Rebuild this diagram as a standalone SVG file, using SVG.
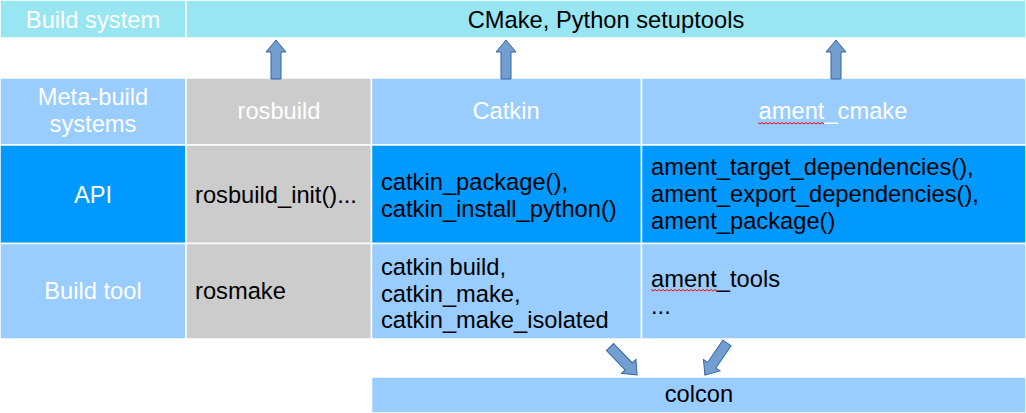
<svg xmlns="http://www.w3.org/2000/svg" width="1026" height="413" viewBox="0 0 1026 413">
<style>
.cell{stroke:#ffffff;stroke-width:1.5}
.cyan{fill:#99e6f3}
.light{fill:#99ccff}
.bright{fill:#0099ff}
.gray{fill:#cccccc}
text{font-family:"Liberation Sans",Arial,sans-serif;font-size:23.7px}
.hd{fill:#ffffff;text-anchor:middle}
.ct{fill:#000000}
.mid{text-anchor:middle}
.arrow{fill:#729fcf;stroke:#3465a4;stroke-width:1}
.wavy{fill:none;stroke:#ff0000;stroke-width:1}
</style>
<defs>
<path id="blk" d="M0,-5 L27,-5 L27,-10 L39,0 L27,10 L27,5 L0,5 Z"/>
</defs>
<rect width="1026" height="413" fill="#ffffff"/>

<g id="row-build-system">
<rect class="cell cyan" x="0" y="0" width="186" height="38"/>
<text class="hd" x="93" y="28">Build system</text>
</g>
<g id="cmake">
<rect class="cell cyan" x="186" y="0" width="840" height="38"/>
<text class="ct mid" x="606" y="28">CMake, Python setuptools</text>
</g>

<g id="row-meta">
<rect class="cell light" x="0" y="78" width="186" height="67"/>
<text class="hd" x="93" y="105">Meta-build</text>
<text class="hd" x="93" y="132">systems</text>
</g>
<g id="rosbuild">
<rect class="cell gray" x="186" y="78" width="185.5" height="67"/>
<text class="hd" x="279" y="119">rosbuild</text>
</g>
<g id="catkin">
<rect class="cell light" x="371.5" y="78" width="270" height="67"/>
<text class="hd" x="506" y="119">Catkin</text>
</g>
<g id="ament-cmake">
<rect class="cell light" x="641.5" y="78" width="384.5" height="67"/>
<text class="hd" x="833" y="119">ament_cmake</text>
<path class="wavy" d="M758,122.5 l2,1.5 l2,-1.5 l2,1.5 l2,-1.5 l2,1.5 l2,-1.5 l2,1.5 l2,-1.5 l2,1.5 l2,-1.5 l2,1.5 l2,-1.5 l2,1.5 l2,-1.5 l2,1.5 l2,-1.5 l2,1.5 l2,-1.5 l2,1.5 l2,-1.5 l2,1.5 l2,-1.5 l2,1.5 l2,-1.5 l2,1.5 l2,-1.5 l2,1.5 l2,-1.5 l2,1.5 l2,-1.5 l2,1.5 l2,-1.5 l2,1.5"/>
</g>

<g id="row-api">
<rect class="cell bright" x="0" y="145" width="186" height="98.5"/>
<text class="hd" x="93" y="203">API</text>
</g>
<g id="rosbuild-api">
<rect class="cell gray" x="186" y="145" width="185.5" height="98.5"/>
<text class="ct" x="195" y="203">rosbuild_init()...</text>
</g>
<g id="catkin-api">
<rect class="cell bright" x="371.5" y="145" width="270" height="98.5"/>
<text class="ct" x="381" y="190">catkin_package(),</text>
<text class="ct" x="381" y="217">catkin_install_python()</text>
</g>
<g id="ament-api">
<rect class="cell bright" x="641.5" y="145" width="384.5" height="98.5"/>
<text class="ct" x="651" y="175">ament_target_dependencies(),</text>
<text class="ct" x="651" y="202">ament_export_dependencies(),</text>
<text class="ct" x="651" y="229">ament_package()</text>
</g>

<g id="row-build-tool">
<rect class="cell light" x="0" y="243.5" width="186" height="95.5"/>
<text class="hd" x="93" y="299">Build tool</text>
</g>
<g id="rosmake">
<rect class="cell gray" x="186" y="243.5" width="185.5" height="95.5"/>
<text class="ct" x="195" y="299">rosmake</text>
</g>
<g id="catkin-tool">
<rect class="cell light" x="371.5" y="243.5" width="270" height="95.5"/>
<text class="ct" x="381" y="275">catkin build,</text>
<text class="ct" x="381" y="302">catkin_make,</text>
<text class="ct" x="381" y="328">catkin_make_isolated</text>
</g>
<g id="ament-tools">
<rect class="cell light" x="641.5" y="243.5" width="384.5" height="95.5"/>
<text class="ct" x="651" y="287">ament_tools</text>
<text class="ct" x="651" y="314">...</text>
<path class="wavy" d="M651,289.5 l2,1.5 l2,-1.5 l2,1.5 l2,-1.5 l2,1.5 l2,-1.5 l2,1.5 l2,-1.5 l2,1.5 l2,-1.5 l2,1.5 l2,-1.5 l2,1.5 l2,-1.5 l2,1.5 l2,-1.5 l2,1.5 l2,-1.5 l2,1.5 l2,-1.5 l2,1.5 l2,-1.5 l2,1.5 l2,-1.5 l2,1.5 l2,-1.5 l2,1.5 l2,-1.5 l2,1.5 l2,-1.5 l2,1.5 l2,-1.5 l2,1.5"/>
</g>

<g id="colcon">
<rect class="cell light" x="371.5" y="377" width="654.5" height="36"/>
<text class="ct mid" x="699" y="402">colcon</text>
</g>

<g id="connectors">
<use href="#blk" class="arrow" transform="translate(276,79) rotate(-90)"/>
<use href="#blk" class="arrow" transform="translate(506,79) rotate(-90)"/>
<use href="#blk" class="arrow" transform="translate(836,79) rotate(-90)"/>
<use href="#blk" class="arrow" transform="translate(610,347) rotate(46)"/>
<use href="#blk" class="arrow" transform="translate(727,343) rotate(124.5)"/>
</g>
</svg>
